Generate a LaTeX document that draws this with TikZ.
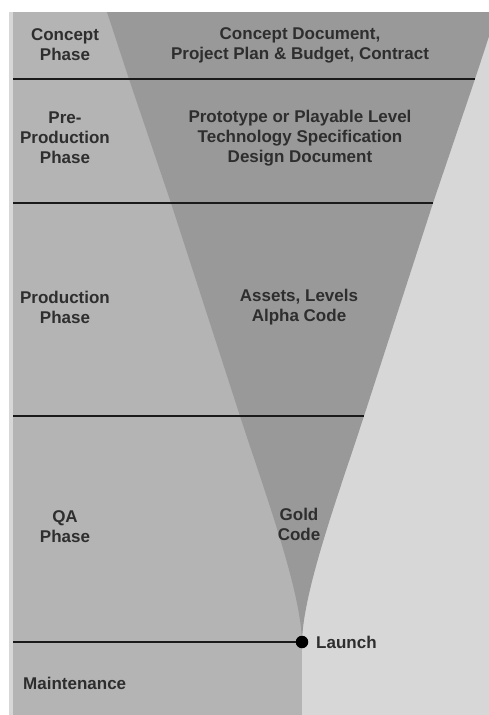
\documentclass[tikz,border=0pt]{standalone}
\usepackage{fontspec}
\setmainfont{Liberation Sans}
\usetikzlibrary{calc}
\definecolor{bgGray}{HTML}{D7D7D7}
\definecolor{panelGray}{HTML}{B4B4B4}
\definecolor{funnelGray}{HTML}{999999}
\definecolor{textGray}{HTML}{2E2E2E}
\definecolor{lineBlack}{HTML}{1A1A1A}
\tikzstyle{phaseText}  = [align=center,
                          text=textGray,
                          inner sep=0pt,
                          font=\bfseries\fontsize{17}{20}\selectfont]
\tikzstyle{stageText}  = [align=center,
                          text=textGray,
                          inner sep=0pt,
                          font=\bfseries\fontsize{17}{20}\selectfont]
\tikzstyle{phaseLine}  = [line width=2pt, draw=lineBlack]
\tikzstyle{launchDot}  = [circle,
                          fill=black,
                          inner sep=0pt,
                          minimum size=12.5pt]
\begin{document}
\begin{tikzpicture}[x=1pt, y=-1pt]
        \useasboundingbox (0,0) rectangle (489,715);
        \fill [white] (0,0) rectangle (489,715);
        \fill [bgGray] (9,12) rectangle (489,715);
        \fill [panelGray] (13,12) rectangle (302,715);

        % funnel edges
        \coordinate (L0) at (107,12);
        \coordinate (L1) at (129,79);
        \coordinate (L2) at (171,203);
        \coordinate (L3) at (240,416);
        \coordinate (R0) at (497,12);
        \coordinate (R1) at (475,79);
        \coordinate (R2) at (433,203);
        \coordinate (R3) at (364,416);
        \coordinate (tip) at (302,642);

        \begin{scope}
            \clip (9,12) rectangle (489,715);
            \fill [funnelGray] (L0) -- (L1) -- (L2) -- (L3)
                .. controls (264,490) and (301,590) .. (tip)
                .. controls (303,590) and (340,490) .. (R3)
                -- (R2) -- (R1) -- (R0) -- cycle;
        \end{scope}

        \coordinate (edge1) at (13,79);
        \coordinate (edge2) at (13,203);
        \coordinate (edge3) at (13,416);
        \coordinate (edge4) at (13,642);

        \node [launchDot] (launch) at (tip) {};

        \draw [phaseLine] (edge1) -- (R1);
        \draw [phaseLine] (edge2) -- (R2);
        \draw [phaseLine] (edge3) -- (R3);
        \draw [phaseLine] (edge4) -- (launch);

        \node [phaseText] (concept)     at (65,45)  {Concept\\Phase};
        \node [phaseText] (preprod)     at (65,138) {Pre-\\Production\\Phase};
        \node [phaseText] (production)  at (65,307) {Production\\Phase};
        \node [phaseText] (qa)          at (65,527) {QA\\Phase};
        \node [phaseText, anchor=west] (maintenance) at (23,683) {Maintenance};

        \node [stageText] (conceptDoc)  at ([shift={(235,0)}] concept)    {Concept Document,\\Project Plan \& Budget, Contract};
        \node [stageText] (prototype)   at ([shift={(235,0)}] preprod)    {Prototype or Playable Level\\Technology Specification\\Design Document};
        \node [stageText] (assets)      at ([shift={(234,0)}] production) {Assets, Levels\\Alpha Code};
        \node [stageText] (gold)        at ([shift={(234,-3)}] qa)        {Gold\\Code};
        \node [stageText, anchor=west] (launchText) at ([shift={(14,0)}] launch.center) {Launch};

    \end{tikzpicture}
\end{document}
